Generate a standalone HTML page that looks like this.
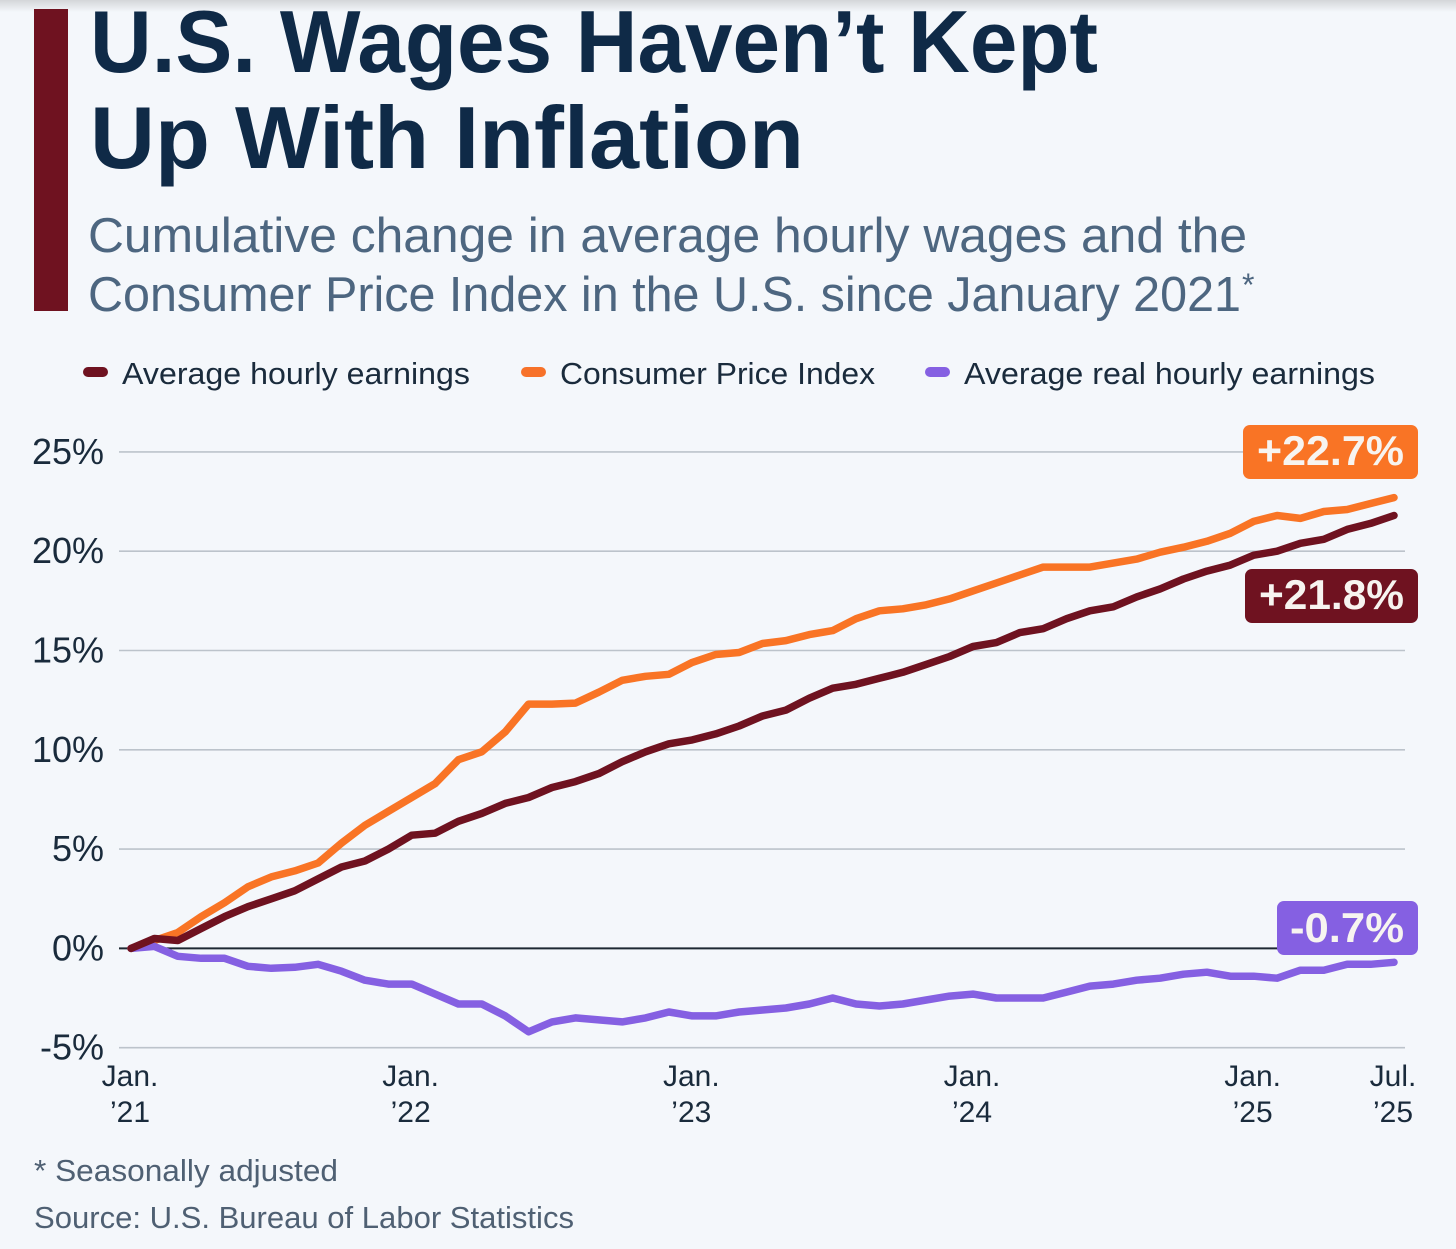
<!DOCTYPE html>
<html lang="en">
<head>
<meta charset="utf-8">
<title>U.S. Wages Haven't Kept Up With Inflation</title>
<style>
html,body{margin:0;padding:0;background:#f4f7fb;}
body{width:1456px;height:1249px;overflow:hidden;position:relative;}
svg{display:block;position:absolute;left:0;top:0;}
text{font-family:"Liberation Sans",sans-serif;}
</style>
</head>
<body>
<svg id="chart" width="1456" height="1249" viewBox="0 0 1456 1249" xmlns="http://www.w3.org/2000/svg">
  <defs>
    <linearGradient id="topShade" x1="0" y1="0" x2="0" y2="1">
      <stop offset="0" stop-color="#d4d6d9"/>
      <stop offset="1" stop-color="#f4f7fb"/>
    </linearGradient>
  </defs>
  <rect x="0" y="0" width="1456" height="1249" fill="#f4f7fb"/>
  <rect x="0" y="0" width="1456" height="12" fill="url(#topShade)"/>
  <rect x="34" y="9" width="34" height="302" fill="#6f1220"/>

  <text x="90" y="72" font-size="88" font-weight="700" fill="#0f2a47" textLength="1008" lengthAdjust="spacingAndGlyphs">U.S. Wages Haven’t Kept</text>
  <text x="90" y="168" font-size="88" font-weight="700" fill="#0f2a47" textLength="714" lengthAdjust="spacingAndGlyphs">Up With Inflation</text>
  <text x="88" y="252" font-size="49" fill="#4d6680" textLength="1159" lengthAdjust="spacingAndGlyphs">Cumulative change in average hourly wages and the</text>
  <text x="88" y="311" font-size="49" fill="#4d6680" textLength="1153" lengthAdjust="spacingAndGlyphs">Consumer Price Index in the U.S. since January 2021</text>
  <text x="1242" y="296" font-size="32" fill="#4d6680">*</text>

  <rect x="83" y="367" width="25" height="10" rx="5" fill="#6f1220"/>
  <text x="122" y="384" font-size="31" fill="#1a2b3c" textLength="348" lengthAdjust="spacingAndGlyphs">Average hourly earnings</text>
  <rect x="521" y="367" width="25" height="10" rx="5" fill="#f7722a"/>
  <text x="560" y="384" font-size="31" fill="#1a2b3c" textLength="315" lengthAdjust="spacingAndGlyphs">Consumer Price Index</text>
  <rect x="925" y="367" width="25" height="10" rx="5" fill="#8560e2"/>
  <text x="964" y="384" font-size="31" fill="#1a2b3c" textLength="411" lengthAdjust="spacingAndGlyphs">Average real hourly earnings</text>

  <g id="grid"></g>
  <g id="yLabels"></g>
  <g id="xLabels"></g>
  <g id="series"></g>

  <rect x="1243" y="425" width="175" height="54" rx="7" fill="#f97425"/>
  <text x="1257" y="465" font-size="42" font-weight="700" fill="#f7f4f0" textLength="147" lengthAdjust="spacingAndGlyphs">+22.7%</text>
  <rect x="1245" y="569" width="173" height="54" rx="7" fill="#6f1220"/>
  <text x="1259" y="609" font-size="42" font-weight="700" fill="#f7f4f0" textLength="145" lengthAdjust="spacingAndGlyphs">+21.8%</text>
  <rect x="1277" y="901" width="141" height="54" rx="7" fill="#8560e2"/>
  <text x="1290" y="942" font-size="42" font-weight="700" fill="#f7f4f0" textLength="114" lengthAdjust="spacingAndGlyphs">-0.7%</text>

  <text x="34" y="1181" font-size="31" fill="#4f6073" textLength="304" lengthAdjust="spacingAndGlyphs">* Seasonally adjusted</text>
  <text x="34" y="1228" font-size="31" fill="#4f6073" textLength="540" lengthAdjust="spacingAndGlyphs">Source: U.S. Bureau of Labor Statistics</text>
</svg>
<script>
const yTickValues = [25, 20, 15, 10, 5, 0, -5];
const yTickLabels = ["25%", "20%", "15%", "10%", "5%", "0%", "-5%"];
const xTickMonths = [0, 12, 24, 36, 48, 54];
const xTickTop = ["Jan.", "Jan.", "Jan.", "Jan.", "Jan.", "Jul."];
const xTickBottom = ["’21", "’22", "’23", "’24", "’25", "’25"];

const cpiValues = [
  0, 0.4, 0.8, 1.6, 2.3, 3.1, 3.6, 3.9, 4.3, 5.3, 6.2, 6.9,
  7.6, 8.3, 9.5, 9.9, 10.9, 12.3, 12.3, 12.35, 12.9, 13.5, 13.7, 13.8,
  14.4, 14.8, 14.9, 15.35, 15.5, 15.8, 16.0, 16.6, 17.0, 17.1, 17.3, 17.6,
  18.0, 18.4, 18.8, 19.2, 19.2, 19.2, 19.4, 19.6, 19.95, 20.2, 20.5, 20.9,
  21.5, 21.8, 21.65, 22.0, 22.1, 22.4, 22.7
];
const earningsValues = [
  0, 0.5, 0.4, 1.0, 1.6, 2.1, 2.5, 2.9, 3.5, 4.1, 4.4, 5.0,
  5.7, 5.8, 6.4, 6.8, 7.3, 7.6, 8.1, 8.4, 8.8, 9.4, 9.9, 10.3,
  10.5, 10.8, 11.2, 11.7, 12.0, 12.6, 13.1, 13.3, 13.6, 13.9, 14.3, 14.7,
  15.2, 15.4, 15.9, 16.1, 16.6, 17.0, 17.2, 17.7, 18.1, 18.6, 19.0, 19.3,
  19.8, 20.0, 20.4, 20.6, 21.1, 21.4, 21.8
];
const realEarningsValues = [
  0, 0.1, -0.4, -0.5, -0.5, -0.9, -1.0, -0.95, -0.8, -1.15, -1.6, -1.8,
  -1.8, -2.3, -2.8, -2.8, -3.4, -4.2, -3.7, -3.5, -3.6, -3.7, -3.5, -3.2,
  -3.4, -3.4, -3.2, -3.1, -3.0, -2.8, -2.5, -2.8, -2.9, -2.8, -2.6, -2.4,
  -2.3, -2.5, -2.5, -2.5, -2.2, -1.9, -1.8, -1.6, -1.5, -1.3, -1.2, -1.4,
  -1.4, -1.5, -1.1, -1.1, -0.8, -0.8, -0.7
];

const NS = "http://www.w3.org/2000/svg";
function xScale(month) { return 131 + (month / 54) * 1263; }
function yScale(value) { return 948.4 - value * 19.86; }

const grid = document.getElementById("grid");
const yLabels = document.getElementById("yLabels");
const xLabels = document.getElementById("xLabels");
const seriesGroup = document.getElementById("series");

yTickValues.forEach(function (v, i) {
  const line = document.createElementNS(NS, "line");
  
  
  line.setAttribute("x1", 119);
  line.setAttribute("x2", v === 0 ? 1290 : 1405);
  line.setAttribute("y1", yScale(v));
  line.setAttribute("y2", yScale(v));
  line.setAttribute("stroke", v === 0 ? "#1d2833" : "#bcc3cb");
  line.setAttribute("stroke-width", v === 0 ? 2 : 1.6);
  grid.appendChild(line);

  const label = document.createElementNS(NS, "text");
  
  
  label.setAttribute("x", 104);
  label.setAttribute("y", yScale(v) + 12);
  label.setAttribute("text-anchor", "end");
  label.setAttribute("font-size", 36);
  label.setAttribute("fill", "#1a2b3c");
  label.textContent = yTickLabels[i];
  yLabels.appendChild(label);
});

xTickMonths.forEach(function (m, i) {
  const top = document.createElementNS(NS, "text");
  
  
  top.setAttribute("x", xScale(m) - 1);
  top.setAttribute("y", 1086);
  top.setAttribute("text-anchor", "middle");
  top.setAttribute("font-size", 30);
  top.setAttribute("fill", "#1a2b3c");
  top.textContent = xTickTop[i];
  xLabels.appendChild(top);

  const bottom = document.createElementNS(NS, "text");
  
  
  bottom.setAttribute("x", xScale(m) - 1);
  bottom.setAttribute("y", 1122);
  bottom.setAttribute("text-anchor", "middle");
  bottom.setAttribute("font-size", 30);
  bottom.setAttribute("fill", "#1a2b3c");
  bottom.textContent = xTickBottom[i];
  xLabels.appendChild(bottom);
});

function drawSeries(values, color, name) {
  const path = document.createElementNS(NS, "polyline");
  
  
  path.setAttribute("points", values.map(function (v, i) {
    return xScale(i).toFixed(1) + "," + yScale(v).toFixed(1);
  }).join(" "));
  path.setAttribute("fill", "none");
  path.setAttribute("stroke", color);
  path.setAttribute("stroke-width", 7.5);
  path.setAttribute("stroke-linejoin", "round");
  path.setAttribute("stroke-linecap", "round");
  seriesGroup.appendChild(path);
}
drawSeries(cpiValues, "#f97425", "cpi-line");
drawSeries(realEarningsValues, "#8560e2", "real-earnings-line");
drawSeries(earningsValues, "#6f1220", "earnings-line");
</script>
</body>
</html>
